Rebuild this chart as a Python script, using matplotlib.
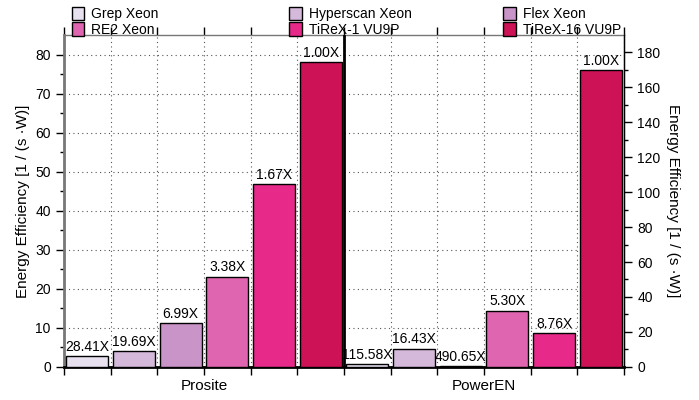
import matplotlib
matplotlib.use("Agg")
import matplotlib.pyplot as plt
import numpy as np
from matplotlib.patches import Patch

plt.rcParams['font.family'] = ['Liberation Sans', 'DejaVu Sans']

# data
engines = ["Grep Xeon", "Hyperscan Xeon", "Flex Xeon", "RE2 Xeon", "TiReX-1 VU9P", "TiReX-16 VU9P"]
colors = ["#e7e1ef", "#d4b9da", "#c994c7", "#df65b0", "#e7298a", "#ce1256"]
datasets = ["Prosite", "PowerEN"]
prosite_eff = [2.75, 3.97, 11.17, 23.1, 46.8, 78.1]
prosite_lbl = ["28.41X", "19.69X", "6.99X", "3.38X", "1.67X", "1.00X"]
poweren_eff = [1.47, 10.35, 0.35, 32.1, 19.4, 170.0]
poweren_lbl = ["115.58X", "16.43X", "490.65X", "5.30X", "8.76X", "1.00X"]

ylabel = "Energy Efficiency [1 / (s \u00b7W)]"

fig = plt.figure(figsize=(6.99, 4.0), dpi=100)
ax = fig.add_axes([0.0916, 0.083, 0.8011, 0.8295])
ax2 = ax.twinx()

n = len(engines)
ax.set_xlim(0, 2 * n)
ax.set_ylim(0, 85)
ax2.set_ylim(0, 190)

x_left = np.arange(n) + 0.5
x_right = np.arange(n) + n + 0.5
bw = 0.9

ax.bar(x_left, prosite_eff, width=bw, color=colors, edgecolor="black", linewidth=1.0, zorder=3)
ax2.bar(x_right, poweren_eff, width=bw, color=colors, edgecolor="black", linewidth=1.0, zorder=3)

for xi, v, t in zip(x_left, prosite_eff, prosite_lbl):
    ax.text(xi, v + 0.6, t, ha="center", va="bottom", fontsize=10, zorder=4)
for xi, v, t in zip(x_right, poweren_eff, poweren_lbl):
    ax2.text(xi, v + 1.3, t, ha="center", va="bottom", fontsize=10, zorder=4)

# grid: dotted, horizontal from left axis, vertical at slot boundaries
ax.set_yticks(np.arange(0, 81, 10))
ax.set_yticks(np.arange(5, 85, 10), minor=True)
ax2.set_yticks(np.arange(0, 181, 20))
ax2.set_yticks(np.arange(10, 190, 20), minor=True)
ax.set_xticks(np.arange(0, 2 * n + 1))
ax.set_xticklabels([])
ax.grid(True, which="major", linestyle=(0, (1, 3)), color="#555555", linewidth=0.8)
ax.set_axisbelow(True)

ax.axvline(n, color="black", linewidth=2.0, zorder=5)

ax.tick_params(axis="y", which="major", length=6, width=1, labelsize=10, direction="out")
ax.tick_params(axis="y", which="minor", length=3, width=1, direction="out")
ax.tick_params(axis="x", which="major", length=6, width=1, direction="out", top=True)
ax2.tick_params(axis="y", which="major", length=6, width=1, labelsize=10, direction="out")
ax2.tick_params(axis="y", which="minor", length=3, width=1, direction="out")

ax.spines["left"].set_color("#777777")
ax.spines["left"].set_linewidth(2.0)
ax.spines["bottom"].set_linewidth(2.0)
ax.spines["top"].set_color("#777777")
ax.spines["top"].set_linewidth(1.0)
ax2.spines["right"].set_linewidth(1.0)
for s in ("left", "bottom", "top"):
    ax2.spines[s].set_visible(False)

for i, name in enumerate(datasets):
    ax.text(n * i + n / 2, -3.2, name, ha="center", va="top", fontsize=11)

ax.set_ylabel(ylabel, fontsize=11, labelpad=4)
ax2.set_ylabel(ylabel, fontsize=11, rotation=270, labelpad=14)

# legend: three columns placed by hand, filled row-wise
handles = [Patch(facecolor=c, edgecolor="black", linewidth=1.0) for c in colors]
col_x = [0.085, 0.396, 0.702]
for j, cx in enumerate(col_x):
    idx = [j, j + 3]
    leg = fig.legend([handles[k] for k in idx], [engines[k] for k in idx],
                     loc="upper left", bbox_to_anchor=(cx, 1.015), ncol=1,
                     frameon=False, fontsize=10, handlelength=0.9, handleheight=1.1,
                     handletextpad=0.5, labelspacing=0.1)

fig.savefig("out.png", dpi=100)
